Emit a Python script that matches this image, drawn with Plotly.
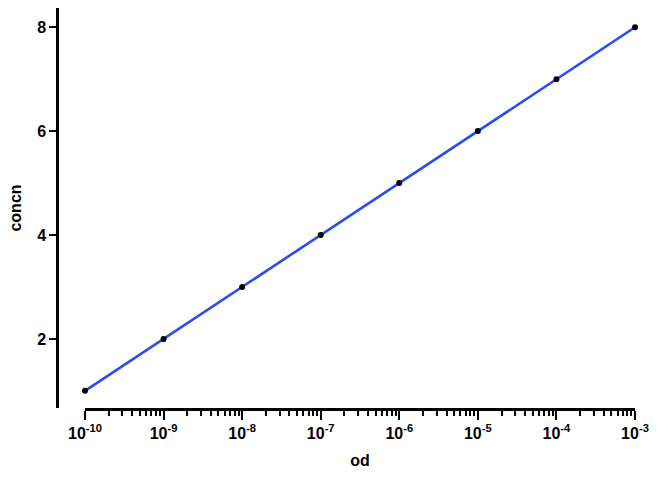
import plotly.graph_objects as go

od = [1e-10, 1e-9, 1e-8, 1e-7, 1e-6, 1e-5, 1e-4, 1e-3]
concn = [1, 2, 3, 4, 5, 6, 7, 8]
x_exponents = [-10, -9, -8, -7, -6, -5, -4, -3]
y_ticks = [2, 4, 6, 8]

major_vals = [10.0 ** e for e in x_exponents]
major_text = ["10<sup>%d</sup>" % e for e in x_exponents]
minor_vals = [m * 10.0 ** e for e in x_exponents[:-1] for m in range(2, 10)]

FAM = "Liberation Sans, Arial, sans-serif"

fig = go.Figure()
fig.add_trace(go.Scatter(
    x=od, y=concn, mode="lines+markers",
    line=dict(color="#2b4cf2", width=2.6),
    marker=dict(color="black", size=6),
    cliponaxis=False,
    showlegend=False,
))

fig.update_layout(
    width=672, height=480,
    margin=dict(l=57, r=37, t=8, b=72, autoexpand=False),
    plot_bgcolor="white", paper_bgcolor="white",
    font=dict(family=FAM, color="black", size=14, weight="bold"),
    xaxis=dict(
        type="log", range=[-10.0001, -2.9999], domain=[(85 - 57) / 578, 1.0],
        automargin=False,
        showline=True, linecolor="black", linewidth=2.5,
        showgrid=False, zeroline=False,
        tickmode="array", tickvals=major_vals, ticktext=major_text,
        ticks="outside", ticklen=9, tickwidth=2, tickcolor="black",
        minor=dict(tickmode="array", tickvals=minor_vals, ticks="outside",
                   ticklen=5, tickwidth=2, tickcolor="black", showgrid=False),
        tickfont=dict(family=FAM, size=16, color="black", weight="bold"),
        title=dict(text="od", standoff=14,
                   font=dict(family=FAM, size=16, color="black", weight="bold")),
    ),
    yaxis=dict(
        range=[0.67, 8.37], anchor="free", position=0,
        automargin=False,
        showline=True, linecolor="black", linewidth=2.5,
        showgrid=False, zeroline=False,
        tickmode="array", tickvals=y_ticks,
        ticks="outside", ticklen=7, tickwidth=2, tickcolor="black",
        tickfont=dict(family=FAM, size=16, color="black", weight="bold"),
        title=dict(text="concn", standoff=10,
                   font=dict(family=FAM, size=16, color="black", weight="bold")),
    ),
)

fig.write_html(
    "out.html",
    config={"displayModeBar": False},
    post_script="document.body.style.margin='0';document.body.style.overflow='hidden';",
)
